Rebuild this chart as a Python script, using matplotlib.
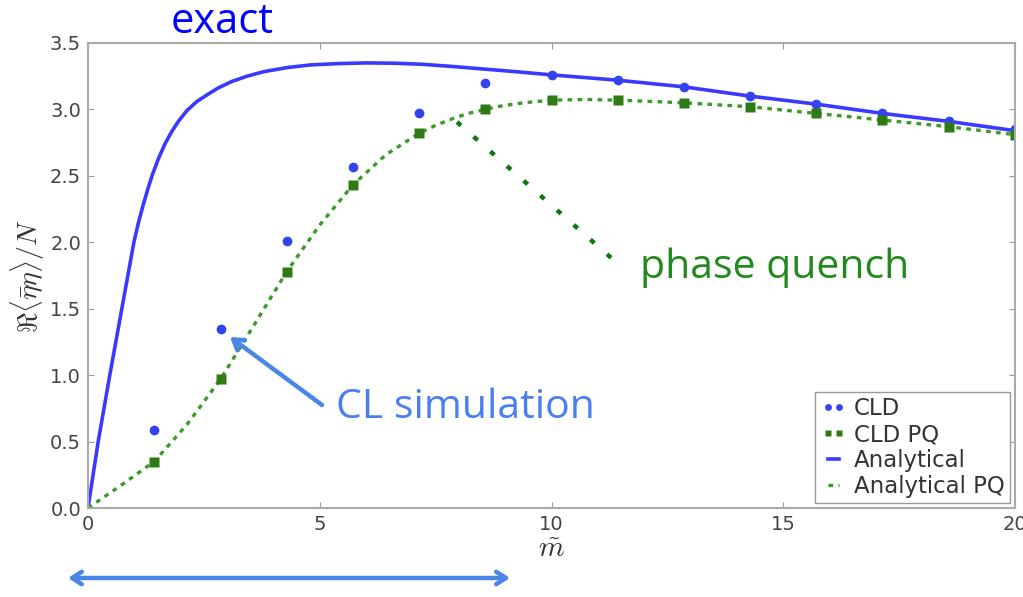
import matplotlib.pyplot as plt
from matplotlib.lines import Line2D

plt.rcParams['mathtext.fontset'] = 'cm'

# complex Langevin results (CLD) and phase-quenched runs (CLD PQ)
m_sim = [1.43, 2.86, 4.29, 5.71, 7.14, 8.57, 10.0, 11.43, 12.86, 14.29, 15.71, 17.14, 18.57, 20.0]
cld = [0.59, 1.35, 2.01, 2.57, 2.97, 3.20, 3.26, 3.22, 3.17, 3.10, 3.04, 2.97, 2.91, 2.85]
cld_pq = [0.35, 0.97, 1.78, 2.43, 2.82, 3.00, 3.07, 3.07, 3.05, 3.02, 2.97, 2.92, 2.87, 2.81]

# analytical curves
m_exact = [0.0, 0.22, 0.47, 0.73, 0.99, 1.09, 1.19, 1.29, 1.39, 1.52, 1.66, 1.8, 1.95,
           2.13, 2.35, 2.57, 2.8, 3.1, 3.43, 3.8, 4.3, 4.8, 5.4, 6.0, 6.6, 7.2, 7.8,
           8.5, 9.2, 10.0, 11.43, 12.86, 14.29, 15.71, 17.14, 18.57, 20.0]
exact = [0.0, 0.5, 1.0, 1.5, 2.0, 2.15, 2.28, 2.40, 2.51, 2.63, 2.74, 2.83, 2.91,
         2.99, 3.06, 3.11, 3.16, 3.21, 3.25, 3.285, 3.315, 3.335, 3.345, 3.35, 3.348,
         3.34, 3.325, 3.305, 3.285, 3.26, 3.22, 3.17, 3.10, 3.04, 2.97, 2.91, 2.84]
m_pq = [0.0, 0.71, 1.43, 2.14, 2.86, 3.57, 4.29, 5.0, 5.71, 6.43, 7.14, 7.5, 7.86, 8.2,
        8.57, 8.9, 9.29, 9.6, 10.0, 10.71, 11.43, 12.14, 12.86, 13.57, 14.29, 15.0,
        15.71, 16.43, 17.14, 17.86, 18.57, 19.29, 20.0]
pq = [0.0, 0.17, 0.35, 0.63, 0.97, 1.37, 1.78, 2.13, 2.43, 2.66, 2.82, 2.88, 2.93, 2.97,
      3.0, 3.025, 3.045, 3.057, 3.07, 3.075, 3.07, 3.06, 3.05, 3.035, 3.02, 2.995,
      2.97, 2.945, 2.92, 2.895, 2.87, 2.84, 2.81]

W, H = 1023, 597


def fp(x, y):
    # pixel position (from top-left) -> figure fraction
    return (x / W, 1 - y / H)


fig = plt.figure(figsize=(W / 100, H / 100), dpi=100)
ax = fig.add_axes([88 / W, 1 - 508 / H, (1015 - 88) / W, (508 - 43) / H])

l_exact, = ax.plot(m_exact, exact, color='#3a3aff', lw=2.6, label='Analytical')
l_pq, = ax.plot(m_pq, pq, color='#3b9a2a', lw=2.4, ls=(0, (1.4, 1.6)),
                dash_capstyle='butt', label='Analytical PQ')
p_cld, = ax.plot(m_sim, cld, 'o', color='#3344ee', ms=7, mec='none', label='CLD')
p_pq, = ax.plot(m_sim, cld_pq, 's', color='#2f7a14', ms=7, mec='none', label='CLD PQ')

ax.set_xlim(0, 20)
ax.set_ylim(0, 3.5)
ax.set_xticks([0, 5, 10, 15, 20])
ax.set_yticks([0, 0.5, 1.0, 1.5, 2.0, 2.5, 3.0, 3.5])
ax.set_yticklabels(['0.0', '0.5', '1.0', '1.5', '2.0', '2.5', '3.0', '3.5'])
ax.tick_params(direction='in', length=4, color='#999999', labelcolor='#444444',
               labelsize=14, top=True, right=True, pad=5)
for s in ax.spines.values():
    s.set_color('#aaaaaa')
    s.set_linewidth(1.5)

ax.set_xlabel(r'$\tilde{m}$', fontsize=21, color='#333333', labelpad=1)
ax.set_ylabel(r'$\Re\langle\bar{\eta}\eta\rangle/N$', fontsize=20, color='#333333', labelpad=2)

leg = ax.legend(handles=[p_cld, p_pq, l_exact, l_pq], loc='lower right', numpoints=2,
                fontsize=16.5, fancybox=False, edgecolor='#999999', framealpha=1,
                borderaxespad=0.2, handlelength=1.1, handletextpad=0.35,
                labelspacing=0.12, borderpad=0.25, markerscale=0.7)
for t in leg.get_texts():
    t.set_color('#333333')

# slide annotations
fig.text(*fp(222, 22), 'exact', ha='center', va='center', color='#0000ff',
         fontsize=30, family='Open Sans')
fig.text(*fp(775, 268), 'phase quench', ha='center', va='center', color='#22891c',
         fontsize=29.5, family='Open Sans')
fig.text(*fp(465, 408), 'CL simulation', ha='center', va='center', color='#4a7ff0',
         fontsize=29.5, family='Open Sans')

arrow_blue = '#4a86e8'
fig.add_artist(plt.Annotation('', xy=fp(230, 337), xytext=fp(322, 405),
                              xycoords='figure fraction', textcoords='figure fraction',
                              arrowprops=dict(arrowstyle='->, head_length=0.7, head_width=0.45',
                                              color=arrow_blue, lw=3.2, shrinkA=0, shrinkB=0)))
fig.add_artist(plt.Annotation('', xy=fp(68, 578), xytext=fp(510, 578),
                              xycoords='figure fraction', textcoords='figure fraction',
                              arrowprops=dict(arrowstyle='<->, head_length=0.7, head_width=0.45',
                                              color=arrow_blue, lw=3.2, shrinkA=0, shrinkB=0)))

x0, y0 = fp(457, 122)
x1, y1 = fp(617, 263)
fig.add_artist(Line2D([x0, x1], [y0, y1], transform=fig.transFigure, color='#0b7a0b',
                      lw=3.2, ls=(0, (1.2, 3.8)), dash_capstyle='butt'))

fig.savefig('out.png', dpi=100)
